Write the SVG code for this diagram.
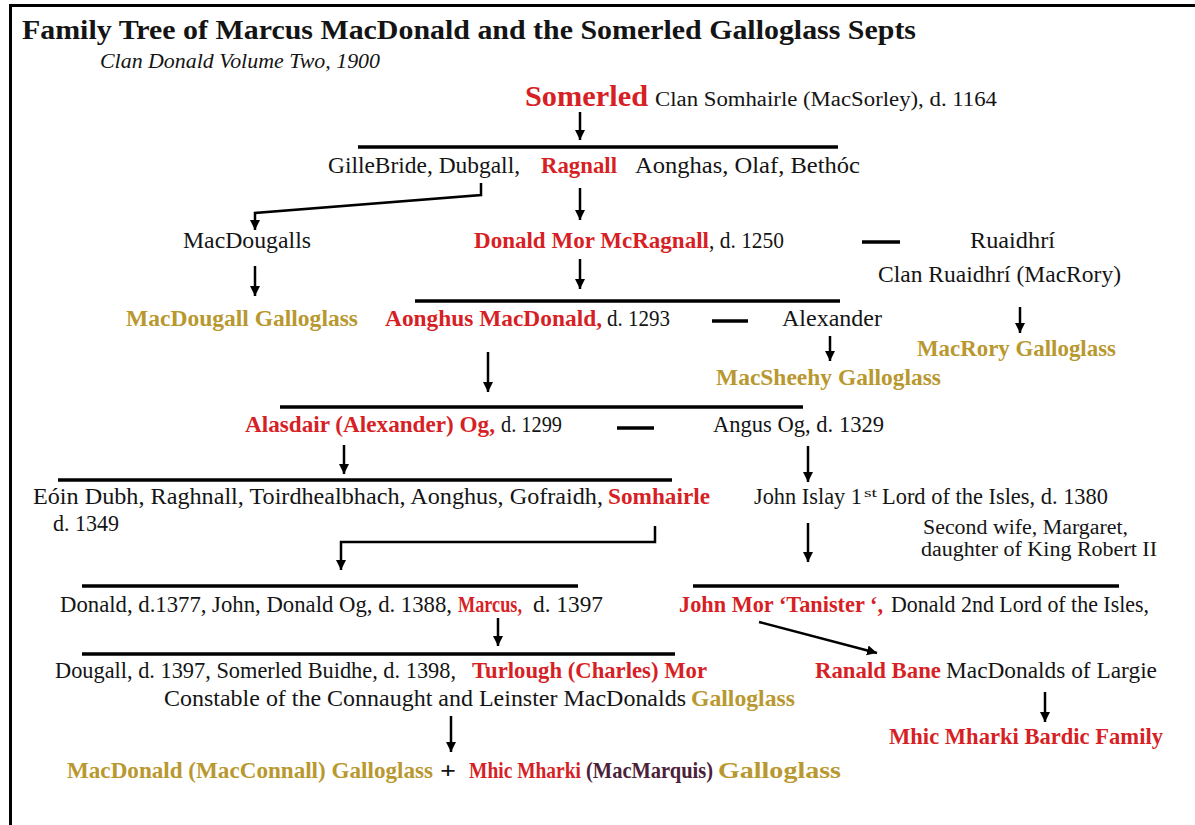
<svg xmlns="http://www.w3.org/2000/svg" width="1195" height="825" viewBox="0 0 1195 825">
<defs>
<style>
text{font-family:"Liberation Serif","Times New Roman",serif;font-size:22.5px;fill:#141414}
.b{font-weight:bold}
.r{fill:#d71f26}
.g{fill:#b8982f}
.p{fill:#4a2139}
.bar{stroke:#000;stroke-width:3.5}
.con{stroke:#000;stroke-width:2.5;fill:none}
.arr{marker-end:url(#ah)}
</style>
<marker id="ah" markerUnits="userSpaceOnUse" markerWidth="10" markerHeight="11" refX="10" refY="5" orient="auto" viewBox="0 0 10 10">
<path d="M0,0 L10,5 L0,10 z" fill="#000"/>
</marker>
</defs>
<rect width="1195" height="825" fill="#fff"/>
<g id="frame">
<line x1="9" y1="5.5" x2="1195" y2="5.5" stroke="#000" stroke-width="3"/>
<line x1="10.5" y1="4" x2="10.5" y2="825" stroke="#000" stroke-width="3"/>
</g>
<g id="title">
<text x="22" y="39" class="b" style="font-size:28px" textLength="894" lengthAdjust="spacingAndGlyphs">Family Tree of Marcus MacDonald and the Somerled Galloglass Septs</text>
<text x="100" y="68" style="font-size:20px;font-style:italic" textLength="280" lengthAdjust="spacingAndGlyphs">Clan Donald Volume Two, 1900</text>
</g>
<g id="connectors">
<line class="bar" x1="358" y1="147" x2="838" y2="147"/>
<line class="bar" x1="415" y1="301" x2="840" y2="301"/>
<line class="bar" x1="280" y1="407" x2="803" y2="407"/>
<line class="bar" x1="58" y1="480" x2="672" y2="480"/>
<line class="bar" x1="82" y1="586" x2="578" y2="586"/>
<line class="bar" x1="693" y1="586" x2="1119" y2="586"/>
<line class="bar" x1="82" y1="654" x2="675" y2="654"/>
<line class="bar" x1="862" y1="242" x2="900" y2="242"/>
<line class="bar" x1="712" y1="321" x2="748" y2="321"/>
<line class="bar" x1="617" y1="428" x2="654" y2="428"/>
<path class="con arr" d="M580,112 V140"/>
<path class="con arr" d="M481,183 V195 L255,213 V230"/>
<path class="con arr" d="M580,188 V220"/>
<path class="con arr" d="M255,266 V296"/>
<path class="con arr" d="M580,259 V289"/>
<path class="con arr" d="M488,352 V392"/>
<path class="con arr" d="M830,336 V361"/>
<path class="con arr" d="M1020,307 V333"/>
<path class="con arr" d="M344,445 V474"/>
<path class="con arr" d="M808,446 V482"/>
<path class="con arr" d="M655,526 V542 H341 V570"/>
<path class="con arr" d="M808,523 V562"/>
<path class="con arr" d="M498,618 V646"/>
<path class="con arr" d="M759,622 L877,653"/>
<path class="con arr" d="M451,716 V752"/>
<path class="con arr" d="M1045,692 V722"/>
</g>
<g id="somerled">
<text x="525" y="106" class="b r" style="font-size:30px" textLength="123" lengthAdjust="spacingAndGlyphs">Somerled</text>
<text x="655" y="106" style="font-size:20.5px" textLength="342" lengthAdjust="spacingAndGlyphs">Clan Somhairle (MacSorley), d. 1164</text>
</g>
<g id="gen2">
<text x="328" y="173" textLength="192" lengthAdjust="spacingAndGlyphs">GilleBride,  Dubgall,</text>
<text x="541" y="173" class="b r" textLength="76" lengthAdjust="spacingAndGlyphs">Ragnall</text>
<text x="635" y="173" textLength="225" lengthAdjust="spacingAndGlyphs">Aonghas,  Olaf,  Bethóc</text>
</g>
<g id="macdougalls">
<text x="183" y="248" textLength="128" lengthAdjust="spacingAndGlyphs">MacDougalls</text>
</g>
<g id="donald-mor">
<text x="474" y="248" class="b r" textLength="235" lengthAdjust="spacingAndGlyphs">Donald Mor McRagnall</text>
<text x="709" y="248" textLength="75" lengthAdjust="spacingAndGlyphs">, d. 1250</text>
</g>
<g id="ruaidhri">
<text x="970" y="248" textLength="85" lengthAdjust="spacingAndGlyphs">Ruaidhrí</text>
<text x="878" y="282" textLength="243" lengthAdjust="spacingAndGlyphs">Clan Ruaidhrí (MacRory)</text>
</g>
<g id="macdougall-galloglass">
<text x="126" y="326" class="b g" textLength="232" lengthAdjust="spacingAndGlyphs">MacDougall Galloglass</text>
</g>
<g id="aonghus">
<text x="385" y="326" class="b r" textLength="217" lengthAdjust="spacingAndGlyphs">Aonghus MacDonald,</text>
<text x="607" y="326" textLength="63" lengthAdjust="spacingAndGlyphs">d. 1293</text>
</g>
<g id="alexander">
<text x="782" y="326" textLength="100" lengthAdjust="spacingAndGlyphs">Alexander</text>
</g>
<g id="macrory-galloglass">
<text x="917" y="356" class="b g" textLength="199" lengthAdjust="spacingAndGlyphs">MacRory Galloglass</text>
</g>
<g id="macsheehy-galloglass">
<text x="716" y="385" class="b g" textLength="225" lengthAdjust="spacingAndGlyphs">MacSheehy Galloglass</text>
</g>
<g id="alasdair">
<text x="245" y="432" class="b r" textLength="250" lengthAdjust="spacingAndGlyphs">Alasdair (Alexander) Og,</text>
<text x="501" y="432" textLength="61" lengthAdjust="spacingAndGlyphs">d. 1299</text>
</g>
<g id="angus-og">
<text x="713" y="432" textLength="171" lengthAdjust="spacingAndGlyphs">Angus Og, d. 1329</text>
</g>
<g id="gen6">
<text x="33" y="504" textLength="570" lengthAdjust="spacingAndGlyphs">Eóin Dubh, Raghnall, Toirdhealbhach, Aonghus, Gofraidh,</text>
<text x="608" y="504" class="b r" textLength="102" lengthAdjust="spacingAndGlyphs">Somhairle</text>
<text x="53" y="531" textLength="66" lengthAdjust="spacingAndGlyphs">d. 1349</text>
</g>
<g id="john-islay">
<text x="754" y="504" textLength="108" lengthAdjust="spacingAndGlyphs">John Islay 1</text>
<text x="864" y="497" style="font-size:13.5px" textLength="13" lengthAdjust="spacingAndGlyphs">st</text>
<text x="882" y="504" textLength="226" lengthAdjust="spacingAndGlyphs">Lord of the Isles, d. 1380</text>
<text x="923" y="534" style="font-size:20.5px" textLength="205" lengthAdjust="spacingAndGlyphs">Second wife, Margaret,</text>
<text x="921" y="556" style="font-size:20.5px" textLength="236" lengthAdjust="spacingAndGlyphs">daughter of King Robert II</text>
</g>
<g id="gen7">
<text x="60" y="612" textLength="392" lengthAdjust="spacingAndGlyphs">Donald, d.1377, John, Donald Og, d. 1388,</text>
<text x="458" y="612" class="b r" textLength="64" lengthAdjust="spacingAndGlyphs">Marcus,</text>
<text x="533" y="612" textLength="70" lengthAdjust="spacingAndGlyphs">d. 1397</text>
</g>
<g id="john-mor">
<text x="679" y="612" class="b r" textLength="204" lengthAdjust="spacingAndGlyphs">John Mor ‘Tanister ‘,</text>
<text x="891" y="612" textLength="258" lengthAdjust="spacingAndGlyphs">Donald 2nd Lord of the Isles,</text>
</g>
<g id="gen8">
<text x="55" y="678" textLength="401" lengthAdjust="spacingAndGlyphs">Dougall, d. 1397, Somerled Buidhe, d. 1398,</text>
<text x="472" y="678" class="b r" textLength="235" lengthAdjust="spacingAndGlyphs">Turlough (Charles) Mor</text>
<text x="164" y="706" textLength="522" lengthAdjust="spacingAndGlyphs">Constable of the Connaught and Leinster MacDonalds</text>
<text x="691" y="706" class="b g" textLength="104" lengthAdjust="spacingAndGlyphs">Galloglass</text>
</g>
<g id="ranald-bane">
<text x="815" y="678" class="b r" textLength="126" lengthAdjust="spacingAndGlyphs">Ranald Bane</text>
<text x="946" y="678" textLength="211" lengthAdjust="spacingAndGlyphs">MacDonalds of Largie</text>
</g>
<g id="bardic-family">
<text x="889" y="744" class="b r" textLength="274" lengthAdjust="spacingAndGlyphs">Mhic Mharki Bardic Family</text>
</g>
<g id="galloglass-final">
<text x="67" y="778" class="b g" textLength="366" lengthAdjust="spacingAndGlyphs">MacDonald (MacConnall) Galloglass</text>
<text x="440" y="778" class="b" textLength="16" lengthAdjust="spacingAndGlyphs">+</text>
<text x="469" y="778" class="b r" textLength="112" lengthAdjust="spacingAndGlyphs">Mhic Mharki</text>
<text x="586" y="778" class="b p" textLength="127" lengthAdjust="spacingAndGlyphs">(MacMarquis)</text>
<text x="718" y="778" class="b g" textLength="123" lengthAdjust="spacingAndGlyphs">Galloglass</text>
</g>
</svg>
